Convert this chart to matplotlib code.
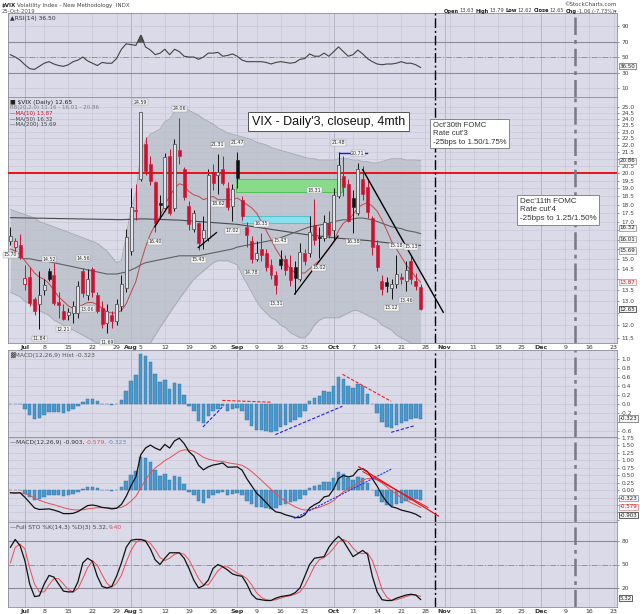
import numpy as np
import pandas as pd
import matplotlib
matplotlib.use('Agg')
import matplotlib.pyplot as plt
import matplotlib.transforms as mtransforms

# daily candles, 26-Jun-2019 .. 25-Oct-2019
opens = [15.9, 15.6, 15.7, 13.8, 14.1, 13.1, 12.9, 13.5, 14.4, 14.2,
         12.95, 12.6, 12.4, 12.5, 12.5, 14.4, 13.3, 14.5, 13.3, 12.7,
         12.1, 12.4, 12.15, 12.8, 13.6, 15.4, 17.7, 19.6, 22.1, 20.6,
         19.4, 18.1, 17.8, 21.2, 17.8, 21.6, 20.3, 17.9, 16.6, 16.9,
         16.1, 16.1, 20.1, 19.9, 20.3, 19.0, 17.9, 20.9, 18.3, 16.7,
         15.9, 15.0, 15.5, 15.3, 14.7, 14.2, 15.0, 15.0, 14.6, 14.6,
         14.0, 15.3, 15.3, 16.8, 16.15, 16.1, 16.9, 16.5, 18.5, 19.8,
         19.3, 18.4, 17.5, 19.6, 19.1, 17.2, 15.7, 13.9, 13.85, 13.6,
         13.8, 14.1, 13.9, 14.9, 13.9, 13.63]
highs = [16.7, 16.1, 16.3, 14.7, 14.6, 13.2, 14.4, 14.0, 14.52, 14.8,
         13.4, 12.9, 12.7, 13.0, 13.9, 14.56, 14.5, 14.6, 13.4, 13.0,
         12.9, 12.6, 13.1, 14.2, 16.6, 19.0, 19.3, 24.59, 22.6, 21.2,
         19.5, 18.6, 21.4, 21.7, 22.4, 24.06, 20.4, 18.2, 17.7, 17.0,
         17.3, 20.3, 20.6, 21.31, 21.2, 19.4, 19.3, 21.47, 18.5, 17.0,
         16.2, 15.9, 16.35, 15.5, 15.0, 14.4, 15.43, 15.2, 15.2, 14.9,
         15.8, 15.5, 17.3, 18.31, 16.7, 17.4, 17.6, 19.0, 21.48, 21.2,
         19.6, 18.9, 20.71, 20.5, 19.6, 17.3, 16.0, 14.2, 14.1, 14.0,
         15.18, 14.3, 14.9, 15.13, 14.3, 13.79]
lows = [15.7, 15.4, 15.0, 13.5, 12.8, 12.4, 11.84, 13.3, 13.9, 12.85,
        12.3, 12.21, 12.2, 12.1, 12.3, 13.2, 13.06, 13.2, 12.5, 11.9,
        11.69, 11.9, 12.0, 12.6, 13.4, 15.2, 17.1, 19.5, 19.9, 19.2,
        16.4, 17.2, 17.6, 17.4, 17.6, 20.6, 18.3, 16.5, 16.4, 15.43,
        15.5, 15.9, 18.9, 18.62, 19.2, 17.7, 17.02, 19.0, 17.1, 15.6,
        14.78, 14.9, 14.9, 14.4, 14.0, 13.31, 14.5, 14.2, 13.7, 13.31,
        13.9, 14.7, 15.1, 15.7, 15.02, 15.9, 16.1, 16.0, 18.4, 18.5,
        17.0, 16.38, 17.4, 18.3, 17.2, 15.2, 14.4, 13.3, 13.4, 13.12,
        13.6, 13.8, 13.46, 13.8, 13.5, 12.62]
closes = [16.2, 15.9, 15.1, 14.06, 12.93, 12.57, 13.28, 13.75, 14.0, 12.93,
          12.86, 12.25, 12.55, 12.8, 13.7, 13.35, 14.0, 13.4, 12.6, 12.05,
          12.6, 12.16, 12.9, 13.8, 16.12, 17.87, 17.61, 24.59, 20.17, 19.49,
          16.91, 17.97, 21.09, 17.52, 22.1, 21.18, 18.47, 16.88, 17.5, 15.8,
          16.5, 19.87, 19.32, 20.05, 19.35, 17.88, 18.98, 19.66, 17.33, 16.27,
          15.0, 15.27, 15.2, 14.61, 14.22, 13.74, 14.67, 14.44, 13.95, 14.05,
          15.32, 14.91, 16.4, 15.96, 16.07, 17.0, 16.24, 18.56, 20.56, 19.12,
          17.04, 17.86, 20.28, 18.64, 17.57, 15.58, 14.57, 13.54, 13.68, 13.79,
          14.25, 14.0, 14.46, 14.01, 13.71, 12.65]

ma10 = [15.5, 15.4, 15.2, 14.9, 14.6, 14.3, 14.1, 14.0, 13.8, 13.5,
        13.2, 13.0, 12.8, 12.7, 12.75, 12.85, 12.95, 12.95, 12.85, 12.7,
        12.55, 12.5, 12.5, 12.6, 12.9, 13.4, 13.9, 14.8, 15.6, 16.3,
        16.8, 17.3, 18.0, 18.5, 19.0, 19.3, 19.2, 18.8, 18.6, 18.5,
        18.3, 18.4, 18.5, 18.3, 18.3, 18.3, 18.3, 18.4, 18.2, 18.0,
        17.8, 17.5, 17.0, 16.5, 16.0, 15.5, 15.1, 14.8, 14.5, 14.3,
        14.3, 14.3, 14.5, 14.7, 14.9, 15.2, 15.5, 15.9, 16.5, 16.9,
        17.1, 17.4, 17.8, 18.0, 18.1, 17.9, 17.6, 17.1, 16.5, 15.9,
        15.5, 15.1, 14.7, 14.4, 14.1, 13.87]
ma50 = [15.1, 15.1, 15.05, 15.0, 15.0, 14.95, 14.9, 14.9, 14.85, 14.8,
        14.75, 14.7, 14.65, 14.6, 14.55, 14.5, 14.45, 14.4, 14.35, 14.3,
        14.25, 14.25, 14.25, 14.3, 14.35, 14.45, 14.55, 14.7, 14.8, 14.85,
        14.9, 14.95, 15.0, 15.05, 15.1, 15.15, 15.15, 15.15, 15.15, 15.15,
        15.2, 15.25, 15.3, 15.35, 15.4, 15.45, 15.5, 15.6, 15.65, 15.7,
        15.75, 15.8, 15.85, 15.9, 15.95, 16.0, 16.1, 16.2, 16.3, 16.4,
        16.5, 16.6, 16.7, 16.75, 16.8, 16.85, 16.9, 17.0, 17.05, 17.1,
        17.1, 17.15, 17.2, 17.2, 17.15, 17.1, 17.0, 16.9, 16.8, 16.7,
        16.65, 16.6, 16.5, 16.45, 16.4, 16.32]
ma200 = [17.22, 17.22, 17.21, 17.21, 17.2, 17.2, 17.19, 17.19, 17.18, 17.18,
         17.17, 17.17, 17.16, 17.16, 17.15, 17.15, 17.14, 17.14, 17.13, 17.13,
         17.12, 17.12, 17.11, 17.11, 17.12, 17.13, 17.14, 17.15, 17.15, 17.14,
         17.13, 17.12, 17.11, 17.1, 17.09, 17.08, 17.06, 17.04, 17.02, 17.0,
         16.98, 16.96, 16.94, 16.92, 16.9, 16.88, 16.86, 16.84, 16.8, 16.76,
         16.72, 16.68, 16.64, 16.6, 16.56, 16.52, 16.48, 16.44, 16.4, 16.36,
         16.32, 16.28, 16.25, 16.22, 16.19, 16.16, 16.13, 16.1, 16.07, 16.05,
         16.03, 16.01, 15.99, 15.97, 15.95, 15.92, 15.89, 15.86, 15.83, 15.8,
         15.78, 15.76, 15.74, 15.72, 15.7, 15.69]
bb_upper = [17.7, 17.6, 17.5, 17.4, 17.3, 17.2, 17.0, 16.9, 16.8, 16.7,
            16.6, 16.5, 16.4, 16.3, 16.2, 16.1, 16.0, 15.9, 15.8, 15.6,
            15.4, 15.1, 14.8, 14.9, 16.2, 17.8, 18.7, 21.4, 22.3, 22.8,
            23.0, 23.2, 23.8, 24.0, 24.6, 24.9, 24.9, 24.7, 24.5, 24.3,
            24.0, 23.8, 23.6, 23.3, 23.1, 22.9, 22.8, 22.7, 22.6, 22.5,
            22.4, 22.2, 22.1, 22.0, 21.8, 21.7, 21.6, 21.5, 21.4, 21.3,
            21.2, 21.1, 21.0, 21.0, 20.9, 20.9, 20.9, 20.9, 21.0, 21.0,
            21.0, 20.9, 20.9, 20.8, 20.8, 20.7, 20.7, 20.8, 20.9, 21.0,
            21.0, 21.0, 20.9, 20.9, 20.9, 20.86]
bb_lower = [13.4, 13.3, 13.2, 13.0, 12.9, 12.8, 12.6, 12.5, 12.4, 12.2,
            12.1, 12.0, 11.9, 11.8, 11.7, 11.6, 11.5, 11.4, 11.3, 11.2,
            11.1, 11.0, 10.9, 10.9, 10.8, 10.7, 10.8, 10.9, 11.1, 11.3,
            11.6, 11.9, 12.2, 12.5, 12.8, 13.1, 13.4, 13.7, 14.0, 14.2,
            14.4, 14.6, 14.8, 14.9, 14.9, 14.9, 14.8, 14.7, 14.2, 13.8,
            13.4, 13.0, 12.7, 12.5, 12.3, 12.2, 12.0, 11.9, 11.7, 11.6,
            11.5, 11.5, 11.7, 12.0, 12.2, 12.3, 12.3, 12.3, 12.3, 12.4,
            12.5, 12.6, 12.6, 12.5, 12.4, 12.3, 12.2, 12.0, 11.9, 11.8,
            11.6, 11.5, 11.4, 11.3, 11.2, 11.16]

rsi = [53, 50, 46, 40, 35, 34, 38, 42, 44, 41,
       39, 38, 40, 44, 46, 50, 45, 42, 39, 43,
       42, 42, 48, 60, 67, 66, 65, 78, 63, 59,
       53, 55, 60, 53, 60, 57, 51, 50, 50, 47,
       50, 55, 55, 56, 51, 52, 54, 51, 46, 44,
       44, 44, 44, 43, 41, 43, 44, 43, 42, 43,
       47, 48, 54, 51, 51, 55, 51, 57, 63, 57,
       51, 53, 59, 54, 48, 44, 41, 40, 41, 41,
       42, 44, 42, 42, 40, 36.5]

macd_hist = [0.0, -0.01, 0.0, -0.12, -0.24, -0.33, -0.31, -0.24, -0.18, -0.18,
             -0.18, -0.2, -0.16, -0.12, -0.05, 0.04, 0.11, 0.11, 0.06, 0.01,
             -0.01, -0.03, -0.01, 0.1, 0.29, 0.52, 0.65, 1.11, 1.07, 0.94,
             0.67, 0.48, 0.54, 0.33, 0.46, 0.44, 0.21, -0.05, -0.16, -0.38,
             -0.42, -0.26, -0.16, -0.1, -0.05, -0.15, -0.12, -0.09, -0.16, -0.36,
             -0.48, -0.57, -0.58, -0.6, -0.62, -0.6, -0.51, -0.46, -0.4, -0.36,
             -0.29, -0.16, 0.06, 0.13, 0.17, 0.28, 0.26, 0.39, 0.59, 0.55,
             0.4, 0.35, 0.44, 0.39, 0.23, -0.01, -0.21, -0.4, -0.51, -0.53,
             -0.46, -0.42, -0.37, -0.33, -0.31, -0.323]
macd_line = [-0.09, -0.1, -0.09, -0.24, -0.42, -0.6, -0.65, -0.64, -0.63, -0.67,
             -0.72, -0.79, -0.79, -0.78, -0.72, -0.62, -0.52, -0.5, -0.53, -0.58,
             -0.6, -0.63, -0.61, -0.48, -0.21, 0.15, 0.44, 1.18, 1.41, 1.51,
             1.41, 1.34, 1.53, 1.41, 1.65, 1.74, 1.56, 1.29, 1.14, 0.83,
             0.68, 0.78, 0.84, 0.87, 0.91, 0.77, 0.77, 0.78, 0.67, 0.38,
             0.14, -0.1, -0.25, -0.42, -0.6, -0.73, -0.76, -0.83, -0.87, -0.92,
             -0.92, -0.83, -0.6, -0.49, -0.41, -0.23, -0.19, 0.04, 0.39, 0.49,
             0.44, 0.48, 0.68, 0.72, 0.62, 0.38, 0.13, -0.17, -0.4, -0.56,
             -0.6, -0.67, -0.71, -0.75, -0.81, -0.903]
macd_signal = [-0.09, -0.09, -0.09, -0.12, -0.18, -0.27, -0.34, -0.4, -0.45, -0.49,
               -0.54, -0.59, -0.63, -0.66, -0.67, -0.66, -0.63, -0.61, -0.59, -0.59,
               -0.59, -0.6, -0.6, -0.58, -0.5, -0.37, -0.21, 0.07, 0.34, 0.57,
               0.74, 0.86, 0.99, 1.08, 1.19, 1.3, 1.35, 1.34, 1.3, 1.21,
               1.1, 1.04, 1.0, 0.97, 0.96, 0.92, 0.89, 0.87, 0.83, 0.74,
               0.62, 0.48, 0.33, 0.18, 0.03, -0.13, -0.25, -0.37, -0.47, -0.56,
               -0.63, -0.67, -0.66, -0.62, -0.58, -0.51, -0.45, -0.35, -0.2, -0.06,
               0.04, 0.13, 0.24, 0.33, 0.39, 0.39, 0.34, 0.24, 0.11, -0.03,
               -0.14, -0.25, -0.34, -0.42, -0.5, -0.579]

sto_k = [72, 82, 74, 55, 25, 9, 10, 25, 36, 34,
         25, 16, 15, 15, 28, 52, 58, 54, 35, 22,
         20, 22, 35, 52, 72, 81, 82, 82, 80, 70,
         56, 50, 58, 65, 65, 65, 58, 45, 30, 20,
         23, 30, 45, 50, 47, 43, 38, 36, 35, 25,
         12, 6, 5, 4, 4, 7, 9, 10, 11, 14,
         20, 35, 50, 58, 59, 60, 72, 80, 86, 80,
         70, 60, 64, 68, 63, 35, 15, 5, 4, 4,
         7, 9, 11, 12, 11, 5.32]
sto_d = [52, 72, 76, 70, 45, 25, 15, 15, 24, 32,
         32, 25, 18, 15, 19, 32, 46, 55, 49, 37,
         26, 21, 26, 36, 53, 68, 78, 82, 81, 77,
         69, 59, 55, 58, 63, 65, 63, 56, 44, 32,
         24, 24, 33, 42, 47, 47, 43, 39, 36, 32,
         24, 14, 8, 5, 4, 5, 7, 9, 10, 12,
         15, 23, 35, 48, 56, 59, 64, 71, 79, 82,
         79, 71, 65, 64, 65, 55, 38, 18, 8, 4,
         5, 7, 9, 11, 11, 9.4]

# high / low price tags on candles: (candle index, 'H' or 'L')
price_tags = [(0, 'L'), (6, 'L'), (8, 'H'), (11, 'L'), (15, 'H'), (16, 'L'), (20, 'L'),
              (27, 'H'), (30, 'L'), (35, 'H'), (39, 'L'), (43, 'H'), (43, 'L'), (46, 'L'),
              (47, 'H'), (50, 'L'), (52, 'H'), (55, 'L'), (56, 'H'), (63, 'H'), (64, 'L'),
              (68, 'H'), (71, 'L'), (72, 'H'), (79, 'L'), (80, 'H'), (82, 'L'), (83, 'H')]

tick_dates = ['2019-07-01', '2019-07-08', '2019-07-15', '2019-07-22', '2019-07-29',
              '2019-08-01', '2019-08-05', '2019-08-12', '2019-08-19', '2019-08-26',
              '2019-09-03', '2019-09-09', '2019-09-16', '2019-09-23', '2019-10-01',
              '2019-10-07', '2019-10-14', '2019-10-21', '2019-10-28', '2019-11-01',
              '2019-11-11', '2019-11-18', '2019-11-25', '2019-12-02', '2019-12-09',
              '2019-12-16', '2019-12-23']
tick_labels = ['Jul', '8', '15', '22', '29', 'Aug', '5', '12', '19', '26', 'Sep', '9', '16',
               '23', 'Oct', '7', '14', '21', '28', 'Nov', '11', '18', '25', 'Dec', '9', '16', '23']

# trading-day axis (weekends and market holidays skipped, like the original)
days = pd.bdate_range('2019-06-26', '2019-12-31')
days = days[~days.isin(pd.to_datetime(['2019-07-04', '2019-09-02', '2019-11-28', '2019-12-25']))]
xs = np.arange(len(closes))
tick_pos = [days.get_loc(pd.Timestamp(d)) for d in tick_dates]
extra_grid = [days.get_loc(pd.Timestamp(d)) for d in ['2019-09-30', '2019-11-04']]
fomc1 = days.get_loc(pd.Timestamp('2019-10-30'))
fomc2 = days.get_loc(pd.Timestamp('2019-12-11'))

W, H = 640, 614
BG = '#dadae8'
GRID = '#c6c6d6'
RED = '#cc1030'
DASHDOT = (0, (7, 2, 1.5, 2))

fig = plt.figure(figsize=(6.4, 6.14), dpi=100)
fig.patch.set_facecolor('white')
fig.canvas.draw()
rend = fig.canvas.get_renderer()


def seq_text(x_px, y_px, parts, size, align='left'):
    # draw coloured / bold pieces one after another on a line
    items = []
    for s, color, bold in parts:
        t = fig.text(0, 1 - y_px / H, s, fontsize=size, va='center', color=color,
                     fontweight='bold' if bold else 'normal')
        items.append((t, t.get_window_extent(renderer=rend).width))
    total = sum(w for _, w in items) + 1.0 * (len(items) - 1)
    x = x_px - total if align == 'right' else x_px
    for t, w in items:
        t.set_x(x / W)
        x += w + 1.0


def panel(top, bottom):
    ax = fig.add_axes([8 / W, 1 - bottom / H, 609 / W, (bottom - top) / H])
    ax.set_facecolor(BG)
    ax.set_xlim(-0.5, 125.7)
    for s in ax.spines.values():
        s.set_color('#8a8a98')
        s.set_linewidth(0.6)
    ax.yaxis.tick_right()
    ax.tick_params(axis='y', labelsize=4.2, length=1.5, width=0.4, pad=1.5, colors='#444444')
    ax.tick_params(axis='x', length=0, labelsize=4.5, pad=1.5, colors='#333333')
    ax.set_xticks(tick_pos)
    ax.set_xticklabels([])
    for p, lab in zip(tick_pos, tick_labels):
        month = not lab.isdigit()
        ax.axvline(p, color='#b4b4c6' if month else GRID, lw=0.7 if month else 0.5, zorder=0)
    for p in extra_grid:
        ax.axvline(p, color=GRID, lw=0.5, zorder=0)
    ax.axvline(fomc1, color='black', lw=1.0, ls=DASHDOT, zorder=6)
    ax.axvline(fomc2, color='#7a7a84', lw=1.8, ls=DASHDOT, zorder=6)
    return ax


def yticks(ax, vals, fmt, hide=()):
    ax.set_yticks(vals)
    ax.set_yticklabels(['' if any(abs(v - x) < 1e-6 for x in hide) else fmt % v for v in vals])
    for v in vals:
        ax.axhline(v, color=GRID, lw=0.45, zorder=0)


def tag(ax, y, s, ec, tc='#222222'):
    tr = mtransforms.blended_transform_factory(ax.transAxes, ax.transData)
    ax.text(1.004, y, s, transform=tr, fontsize=4.0, va='center', ha='left', color=tc,
            bbox=dict(boxstyle='square,pad=0.1', fc='#f4f4f4', ec=ec, lw=0.5),
            clip_on=False, zorder=12)


def date_labels(ax):
    ax.set_xticklabels(tick_labels)
    for t in ax.get_xticklabels():
        if not t.get_text().isdigit():
            t.set_fontweight('bold')


# ---------------- RSI ----------------
ax_rsi = panel(13, 97)
ax_rsi.set_ylim(-1.6, 106.8)
yticks(ax_rsi, [10, 30, 50, 70, 90], '%d')
ax_rsi.axhline(70, color='#8a8a98', lw=0.8)
ax_rsi.axhline(30, color='#8a8a98', lw=0.8)
ax_rsi.axhline(50, color='#8a8a98', lw=0.6, ls=DASHDOT)
r = np.array(rsi)
ax_rsi.fill_between(xs, 70, r, where=r > 70, interpolate=True, color='#555555', zorder=3)
ax_rsi.plot(xs, r, color='#444444', lw=0.8, zorder=4)
seq_text(10, 18.5, [('\u25b2RSI(14) 36.50', '#333333', False)], 4.3)
tag(ax_rsi, 38.0, '36.50', '#666666')

# ---------------- price ----------------
ax = panel(97, 343)
ax.set_yscale('log')
ax.set_ylim(11.3, 25.84)
ax.yaxis.set_minor_locator(matplotlib.ticker.NullLocator())
yticks(ax, np.arange(11.5, 25.01, 0.5), '%.1f', hide=(12.5, 14.0, 15.5, 16.0, 16.5, 21.0))
date_labels(ax)

ax.fill_between(xs, bb_lower, bb_upper, color='#b9bec8', alpha=0.75, lw=0, zorder=1)
ax.plot(xs, bb_upper, color='#a4a8b2', lw=0.6, zorder=1)
ax.plot(xs, bb_lower, color='#a4a8b2', lw=0.6, zorder=1)
ax.plot(xs, ma200, color='#4a4a4a', lw=0.8, zorder=3)
ax.plot(xs, ma50, color='#606060', lw=0.8, zorder=3)
ax.plot(xs, ma10, color='#c04848', lw=0.7, zorder=3)

ax.axhline(20.0, color='#ee1111', lw=1.4, zorder=5)

# marked zones and trend lines
ax.fill_between([46.8, 68.8], 18.76, 19.64, color='#7fe07f', alpha=0.85, ec='#33bb33', lw=0.6, zorder=2)
ax.fill_between([47.9, 62.0], 16.93, 17.31, color='#7fe6f0', alpha=0.85, ec='#33bbcc', lw=0.6, zorder=2)
ax.plot([68.0, 73.8], [21.4, 21.4], color='#1a1aee', lw=1.0, zorder=6)
ax.plot([29.9, 32.7], [16.7, 17.9], color='black', lw=0.9, zorder=6)
ax.plot([38.9, 42.7], [15.57, 16.38], color='black', lw=0.9, zorder=6)
ax.plot([58.9, 67.9], [13.32, 16.19], color='black', lw=0.9, zorder=6)
ax.plot([73.0, 89.7], [20.24, 12.53], color='black', lw=1.0, zorder=6)

# candles
o = np.array(opens)
h = np.array(highs)
lo = np.array(lows)
c = np.array(closes)
prev = np.r_[c[0], c[:-1]]
col = np.where(c < prev, RED, '#111111')
hollow = c > o
top = np.maximum(o, c)
bot = np.minimum(o, c)
ax.vlines(xs, top, h, colors=col, lw=0.7, zorder=4)
ax.vlines(xs, lo, bot, colors=col, lw=0.7, zorder=4)
body = np.maximum(top - bot, 0.04)
ax.bar(xs[~hollow], body[~hollow], bottom=bot[~hollow], width=0.62, color=col[~hollow],
       edgecolor=col[~hollow], lw=0.4, zorder=5)
ax.bar(xs[hollow], body[hollow], bottom=bot[hollow], width=0.62, color='#e2e2ea',
       edgecolor=np.where(col[hollow] == RED, RED, '#555555'), lw=0.6, zorder=5)

for i, kind in price_tags:
    v = highs[i] if kind == 'H' else lows[i]
    y = v * 1.032 if kind == 'H' else v / 1.032
    ax.text(i, y, '%.2f' % v, fontsize=3.4, ha='center', va='center', color='#333333',
            bbox=dict(boxstyle='square,pad=0.1', fc='#f2f2f2', ec='#999999', lw=0.3), zorder=8)

seq_text(10, 102.5, [('\u25a0 $VIX (Daily) 12.65', '#222222', False)], 4.3)
seq_text(10, 108, [('BB(20,2.0) 11.16 - 16.01 - 20.86', '#808080', False)], 4.0)
seq_text(10, 113.5, [('\u2014MA(10) 13.87', RED, False)], 4.0)
seq_text(10, 119, [('\u2014MA(50) 16.32', '#444444', False)], 4.0)
seq_text(10, 124.5, [('\u2014MA(200) 15.69', '#444444', False)], 4.0)

ax.text(0.401, 0.90, "VIX - Daily'3, closeup, 4mth", transform=ax.transAxes, fontsize=9,
        family='Liberation Sans', va='center', ha='left', color='#111111',
        bbox=dict(boxstyle='square,pad=0.3', fc='white', ec='#555555', lw=0.7), zorder=9)
ax.text(0.698, 0.900, "Oct'30th FOMC\nRate cut'3\n-25bps to 1.50/1.75%", transform=ax.transAxes,
        fontsize=5.6, family='Liberation Sans', va='top', ha='left', color='#333333', linespacing=1.3,
        bbox=dict(boxstyle='square,pad=0.35', fc='white', ec='#777777', lw=0.6), zorder=9)
ax.text(0.840, 0.590, "Dec'11th FOMC\nRate cut'4\n-25bps to 1.25/1.50%", transform=ax.transAxes,
        fontsize=5.8, family='Liberation Sans', va='top', ha='left', color='#333333', linespacing=1.3,
        bbox=dict(boxstyle='square,pad=0.35', fc='white', ec='#777777', lw=0.6), zorder=9)

tag(ax, 20.86, '20.86', '#888888')
tag(ax, 16.65, '16.32', '#888888')
tag(ax, 16.02, '16.01', '#888888')
tag(ax, 15.42, '15.69', '#888888')
tag(ax, 13.87, '13.87', '#e08080', RED)
tag(ax, 12.65, '12.65', '#222222')

# ---------------- MACD histogram ----------------
hist = np.array(macd_hist)
ax_h = panel(350, 437)
ax_h.set_ylim(-0.733, 1.2)
yticks(ax_h, np.round(np.arange(-0.6, 1.01, 0.2), 1), '%.1f', hide=(-0.4,))
ax_h.bar(xs, hist, width=0.72, color='#4b98cc', edgecolor='#2c6e9c', lw=0.3, zorder=3)
ax_h.plot([39.9, 43.9], [-0.51, -0.07], color='#2222dd', lw=0.8, ls=(0, (3, 1.5)), zorder=5)
ax_h.plot([43.9, 54.0], [0.08, 0.04], color='#ee2222', lw=0.8, ls=(0, (3, 1.5)), zorder=5)
ax_h.plot([54.9, 68.8], [-0.68, -0.05], color='#2222dd', lw=0.8, ls=(0, (3, 1.5)), zorder=5)
ax_h.plot([68.8, 78.9], [0.66, 0.06], color='#ee2222', lw=0.8, ls=(0, (3, 1.5)), zorder=5)
ax_h.plot([78.9, 83.8], [-0.63, -0.48], color='#2222dd', lw=0.8, ls=(0, (3, 1.5)), zorder=5)
seq_text(10, 355.5, [('\u2593MACD(12,26,9) Hist -0.323', '#555555', False)], 4.3)
tag(ax_h, -0.323, '-0.323', '#666666')

# ---------------- MACD lines ----------------
ax_m = panel(437, 522)
ax_m.set_ylim(-1.07, 1.78)
yticks(ax_m, np.arange(-1.0, 1.76, 0.25), '%.2f', hide=(-0.25, -0.5, -0.75, -1.0))
ax_m.bar(xs, hist, width=0.72, color='#4b98cc', edgecolor='#2c6e9c', lw=0.3, zorder=3)
ax_m.plot(xs, macd_signal, color='#e85050', lw=0.7, zorder=4)
ax_m.plot(xs, macd_line, color='#111111', lw=0.9, zorder=5)
ax_m.plot([58.8, 78.9], [-0.95, 0.70], color='#2233ee', lw=0.8, ls=(0, (2, 1)), zorder=6)
ax_m.plot([72.2, 88.7], [0.78, -0.87], color='#ee1111', lw=0.9, zorder=6)
ax_m.plot([73.0, 86.5], [0.62, -0.58], color='#ee1111', lw=0.7, zorder=6)
seq_text(10, 442.5, [('\u2014MACD(12,26,9) -0.903,', '#333333', False),
                     ('-0.579,', '#e05050', False), ('-0.323', '#5a8ac0', False)], 4.3)
tag(ax_m, -0.28, '-0.323', '#6a8ac0')
tag(ax_m, -0.56, '-0.579', '#e08080', RED)
tag(ax_m, -0.84, '-0.903', '#222222')

# ---------------- Full stochastics ----------------
ax_s = panel(522, 607)
ax_s.set_ylim(-4.3, 104.3)
yticks(ax_s, [20, 50, 80], '%d')
ax_s.axhline(80, color='#8a8a98', lw=0.8)
ax_s.axhline(20, color='#8a8a98', lw=0.8)
ax_s.axhline(50, color='#8a8a98', lw=0.6, ls=DASHDOT)
ax_s.plot(xs, sto_d, color='#e85050', lw=0.7, zorder=4)
ax_s.plot(xs, sto_k, color='#111111', lw=0.9, zorder=5)
seq_text(10, 527.5, [('\u2014Full STO %K(14,3) %D(3) 5.32,', '#444444', False),
                     ('9.40', '#e05050', False)], 4.3)
tag(ax_s, 7.0, '5.32', '#222222')
date_labels(ax_s)

# ---------------- header ----------------
seq_text(2, 5, [('$VIX', '#222222', True),
                ('Volatility Index - New Methodology  INDX', '#444444', False)], 4.0)
seq_text(2, 11.5, [('25-Oct-2019', '#555555', False)], 3.9)
seq_text(617, 4.5, [('\u00a9StockCharts.com', '#444444', False)], 4.0, align='right')
seq_text(617, 11, [('Open', '#222222', True), ('13.63', '#444444', False),
                   ('High', '#222222', True), ('13.79', '#444444', False),
                   ('Low', '#222222', True), ('12.62', '#444444', False),
                   ('Close', '#222222', True), ('12.65', '#444444', False),
                   ('Chg', '#222222', True), ('-1.06 (-7.73%)\u25be', '#444444', False)],
         3.7, align='right')

fig.savefig('out.png', dpi=100, facecolor='white')
